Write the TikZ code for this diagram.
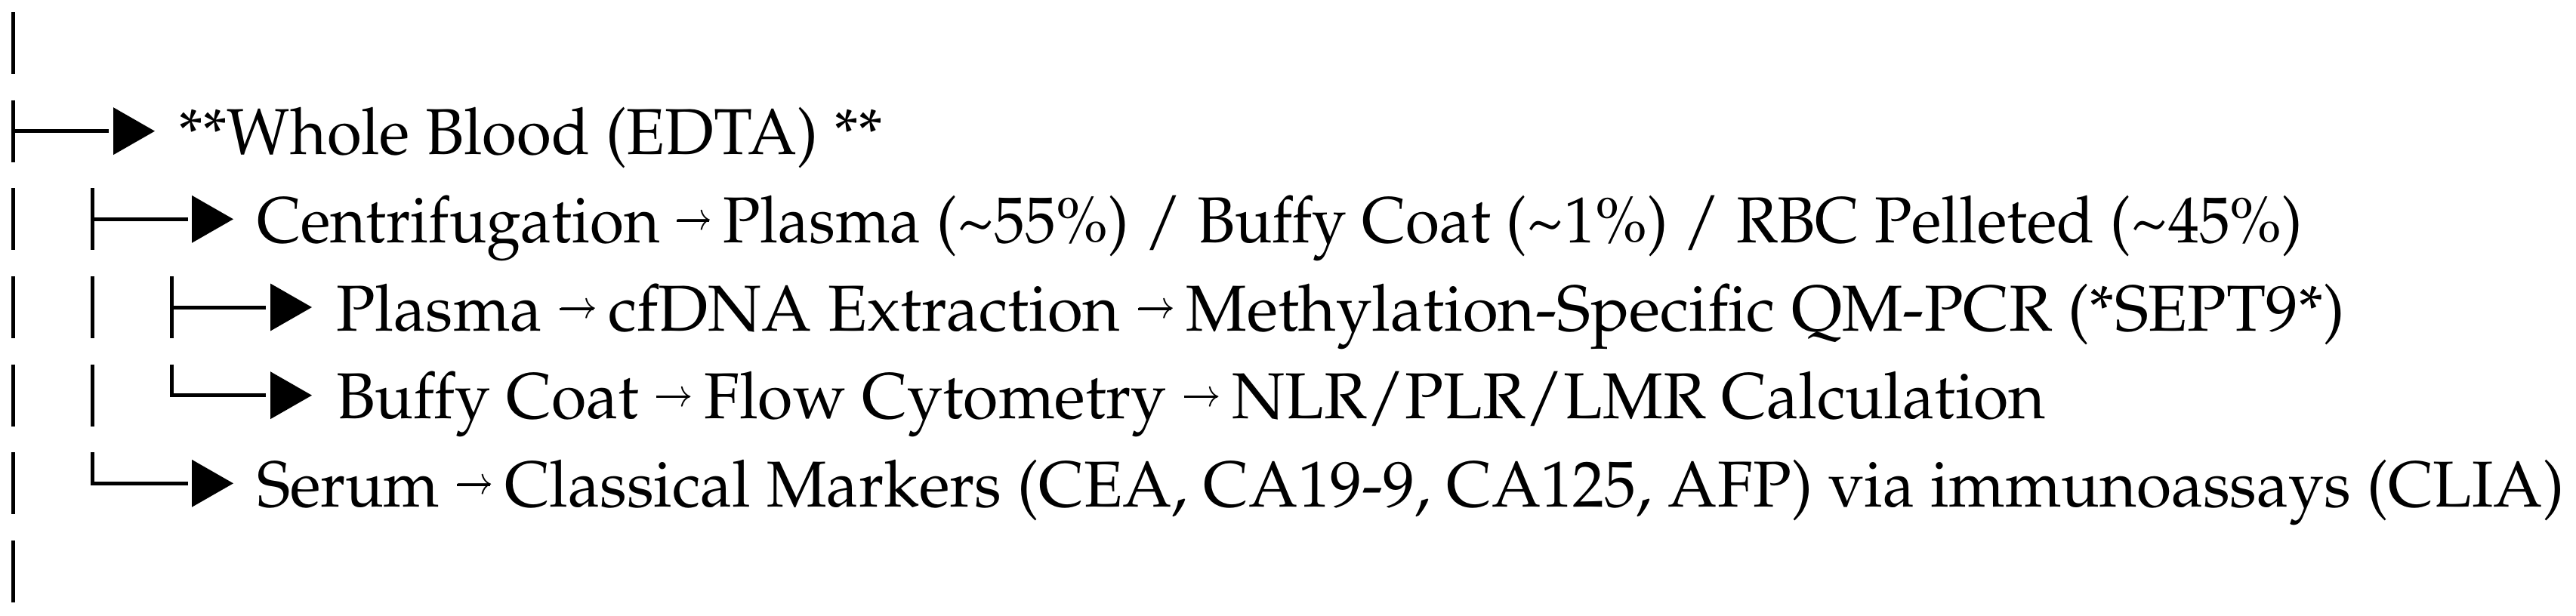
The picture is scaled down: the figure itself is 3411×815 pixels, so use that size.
\documentclass[tikz,border=0pt]{standalone}
\usepackage[T1]{fontenc}
\usepackage{mathpazo}
\usepackage{graphicx}
\newcommand{\rarr}{\makebox[10.5pt][l]{\hspace{0.4pt}\rule[5.5pt]{9pt}{0.6pt}}\llap{\raisebox{3.3pt}{\resizebox{10.5pt}{!}{$\rightarrow$}}}\hspace{-1.5pt}}
\newcommand{\fitto}[2]{\resizebox{#1}{\height}{#2}}
\begin{document}
\begin{tikzpicture}[x=0.2pt,y=-0.2pt,
  tree/.style={line width=1pt, line join=miter},
  tipmark/.style={fill=black},
  lbl/.style={anchor=base west, inner sep=0pt, font=\fontsize{17.2}{20}\selectfont}]
\useasboundingbox (0,0) rectangle (3411,815);
% row centres
\def\rA{57}\def\rB{173.7}\def\rC{290.3}\def\rD{407}\def\rE{523.7}\def\rF{640.3}\def\rG{757}
% column 0 bars
\foreach \r in {\rA,\rC,\rD,\rE,\rF,\rG}
  \draw[tree] (17,\r-41) -- (17,\r+41);
% row 1
\coordinate (a1) at (17,\rB-41); \coordinate (b1) at (17,\rB+41);
\coordinate (j1) at (17,\rB); \coordinate (e1) at (144,\rB);
\draw[tree] (a1) -- (b1); \draw[tree] (j1) -- (e1);
\fill[tipmark] (150,\rB-31.5) -- (205,\rB) -- (150,\rB+31.5) -- cycle;
\node[lbl] (t1) at (235,\rB+31) {\fitto{186.6pt}{**Whole Blood (EDTA) **}};
% row 2
\coordinate (a2) at (122,\rC-41); \coordinate (b2) at (122,\rC+41);
\coordinate (j2) at (122,\rC); \coordinate (e2) at (249,\rC);
\draw[tree] (a2) -- (b2); \draw[tree] (j2) -- (e2);
\fill[tipmark] (254,\rC-31.5) -- (309,\rC) -- (254,\rC+31.5) -- cycle;
\node[lbl] (t2) at (339,\rC+31) {\fitto{541.8pt}{Centrifugation \rarr{} Plasma (\textasciitilde55\%) / Buffy Coat (\textasciitilde1\%) / RBC Pelleted (\textasciitilde45\%)}};
% row 3
\draw[tree] (122,\rD-41) -- (122,\rD+41);
\coordinate (a3) at (227,\rD-41); \coordinate (b3) at (227,\rD+41);
\coordinate (j3) at (227,\rD); \coordinate (e3) at (352,\rD);
\draw[tree] (a3) -- (b3); \draw[tree] (j3) -- (e3);
\fill[tipmark] (358,\rD-31.5) -- (413,\rD) -- (358,\rD+31.5) -- cycle;
\node[lbl] (t3) at (444,\rD+31) {\fitto{532pt}{Plasma \rarr{} cfDNA Extraction \rarr{} Methylation-Specific QM-PCR (*SEPT9*)}};
% row 4
\draw[tree] (122,\rE-41) -- (122,\rE+41);
\coordinate (a4) at (227,\rE-41); \coordinate (j4) at (227,\rE); \coordinate (e4) at (352,\rE);
\draw[tree] (a4) -- (j4) -- (e4);
\fill[tipmark] (358,\rE-31.5) -- (413,\rE) -- (358,\rE+31.5) -- cycle;
\node[lbl] (t4) at (444,\rE+31) {\fitto{452.8pt}{Buffy Coat \rarr{} Flow Cytometry \rarr{} NLR/PLR/LMR Calculation}};
% row 5
\coordinate (a5) at (122,\rF-41); \coordinate (j5) at (122,\rF); \coordinate (e5) at (249,\rF);
\draw[tree] (a5) -- (j5) -- (e5);
\fill[tipmark] (254,\rF-31.5) -- (309,\rF) -- (254,\rF+31.5) -- cycle;
\node[lbl] (t5) at (339,\rF+31) {\fitto{611pt}{Serum \rarr{} Classical Markers (CEA, CA19-9, CA125, AFP) via immunoassays (CLIA)}};
\end{tikzpicture}
\end{document}
